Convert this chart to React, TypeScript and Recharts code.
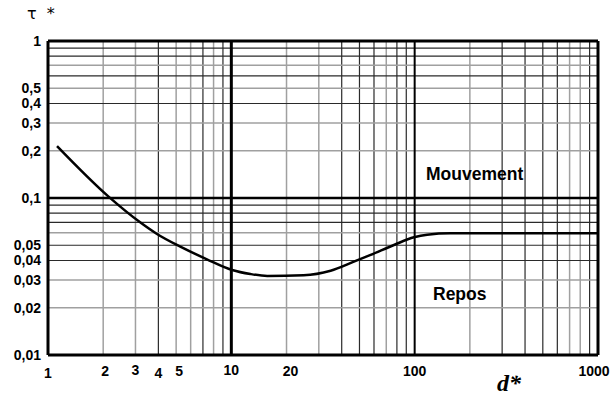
import { Line, LineChart, ReferenceLine, XAxis, YAxis } from "recharts";

// curve (d*, tau*)
const dStar = [1.12, 2.14, 3.18, 3.93, 5.27, 7.36, 10.1, 12.7, 15.7, 24.8, 34.8, 46.6, 57.5, 77.1, 99.1, 117, 157, 1000];
const tauStar = [0.214, 0.102, 0.07, 0.059, 0.049, 0.0407, 0.0348, 0.0328, 0.0319, 0.0322, 0.0344, 0.0393, 0.0434, 0.0502, 0.0562, 0.0584, 0.0596, 0.0596];

const xTicks = [1, 2, 3, 4, 5, 10, 20, 100, 1000];
const yTicks = [0.01, 0.02, 0.03, 0.04, 0.05, 0.1, 0.2, 0.3, 0.4, 0.5, 1];

const xGrid = [2, 3, 4, 5, 6, 7, 8, 9, 20, 30, 40, 50, 60, 70, 80, 90, 200, 300, 400, 500, 600, 700, 800, 900];
const yGrid = [0.02, 0.03, 0.04, 0.05, 0.06, 0.07, 0.08, 0.09, 0.2, 0.3, 0.4, 0.5, 0.6, 0.7, 0.8, 0.9];
const xMajor = [10, 100];
const yMajor = [0.1];

// scanned grid: some lines come out grey, some dark
const xLight = new Set([2, 3, 5, 6, 8, 20, 30, 70, 200, 700, 800]);
const yLight = new Set([0.02, 0.03, 0.06, 0.2, 0.3, 0.5, 0.7]);

const data = dStar.map((d, i) => ({ d, tau: tauStar[i] }));

const font = "'Liberation Sans', Arial, sans-serif";
const fmtY = (v: number) => String(v).replace(".", ",");
const xDy: Record<number, number> = { 1: 2, 3: -1, 4: 2, 10: -1 };
const xDx: Record<number, number> = { 2: 2, 5: 3, 20: 4, 1000: -4 };

function XTick({ x, y, payload }: any) {
  const v = payload.value as number;
  return (
    <text x={x + (xDx[v] ?? 0)} y={y + 13 + (xDy[v] ?? 0)} textAnchor="middle" fontFamily={font} fontWeight="bold" fontSize={14} fill="#000">
      {v}
    </text>
  );
}

function YTick({ x, y, payload }: any) {
  return (
    <text x={x + 1} y={y + 5} textAnchor="end" fontFamily={font} fontWeight="bold" fontSize={14} fill="#000">
      {fmtY(payload.value)}
    </text>
  );
}

export default function App() {
  return (
    <div style={{ position: "absolute", left: 0, top: 0, width: 611, height: 401 }}>
      <LineChart width={611} height={401} data={data} margin={{ top: 41, right: 13, bottom: 16, left: 0 }}>
        <XAxis
          dataKey="d"
          type="number"
          scale="log"
          domain={[1, 1000]}
          ticks={xTicks}
          tick={XTick}
          interval={0}
          axisLine={false}
          tickLine={false}
          height={30}
          allowDataOverflow
        />
        <YAxis
          type="number"
          scale="log"
          domain={[0.01, 1]}
          ticks={yTicks}
          tick={YTick}
          interval={0}
          axisLine={false}
          tickLine={false}
          width={48}
          allowDataOverflow
        />
        {xGrid.map((v) => (
          <ReferenceLine key={"x" + v} x={v} stroke={xLight.has(v) ? "#a0a0a0" : "#2a2a2a"} strokeWidth={xLight.has(v) ? 1.5 : 1.2} />
        ))}
        {yGrid.map((v) => (
          <ReferenceLine key={"y" + v} y={v} stroke={yLight.has(v) ? "#a0a0a0" : "#2a2a2a"} strokeWidth={yLight.has(v) ? 1.5 : 1.2} />
        ))}
        {xMajor.map((v) => (
          <ReferenceLine key={"X" + v} x={v} stroke="#000" strokeWidth={v === 10 ? 3 : 2} />
        ))}
        {yMajor.map((v) => (
          <ReferenceLine key={"Y" + v} y={v} stroke="#000" strokeWidth={2.5} />
        ))}
        <ReferenceLine x={1} stroke="#000" strokeWidth={3} />
        <ReferenceLine x={1000} stroke="#000" strokeWidth={3} />
        <ReferenceLine y={0.01} stroke="#000" strokeWidth={3} />
        <ReferenceLine y={1} stroke="#000" strokeWidth={3} />
        <Line dataKey="tau" type="monotone" stroke="#000" strokeWidth={2.5} dot={false} isAnimationActive={false} />
      </LineChart>
      <div style={{ position: "absolute", zIndex: 10, left: 27, top: 4, lineHeight: "20px", fontFamily: "'DejaVu Sans', sans-serif", fontSize: 16, color: "#000", whiteSpace: "pre" }}>τ  *</div>
      <div style={{ position: "absolute", zIndex: 10, left: 426, top: 164, lineHeight: "20px", fontFamily: font, fontWeight: "bold", fontSize: 17.5 }}>Mouvement</div>
      <div style={{ position: "absolute", zIndex: 10, left: 433, top: 284, lineHeight: "20px", fontFamily: font, fontWeight: "bold", fontSize: 17.5 }}>Repos</div>
      <div style={{ position: "absolute", zIndex: 10, left: 497, top: 370, lineHeight: "26px", fontFamily: "'Liberation Serif', 'Times New Roman', serif", fontWeight: "bold", fontStyle: "italic", fontSize: 24 }}>d*</div>
    </div>
  );
}
